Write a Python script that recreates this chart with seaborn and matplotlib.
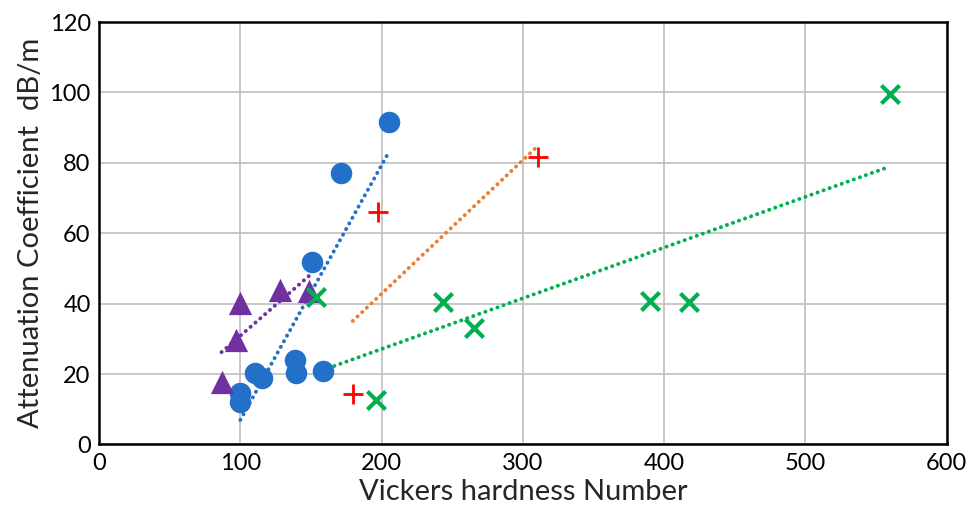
import matplotlib
matplotlib.use("Agg")
import matplotlib.pyplot as plt
import seaborn as sns
import numpy as np

# Vickers hardness (HV) and attenuation coefficient (dB/m) per material group
circle_hv = [205.5, 171.4, 150.6, 138.4, 139.1, 158.4, 110.2, 115.0, 100.0, 100.0]
circle_att = [91.5, 77.0, 51.7, 24.0, 20.2, 20.9, 20.2, 18.8, 14.5, 12.1]

triangle_hv = [86.7, 96.7, 100.0, 127.8, 148.5]
triangle_att = [17.7, 29.7, 40.3, 43.9, 43.6]

plus_hv = [179.6, 197.3, 311.0]
plus_att = [14.2, 65.9, 81.7]

cross_hv = [153.7, 196.1, 243.7, 265.6, 389.8, 417.5, 559.6]
cross_att = [42.0, 12.6, 40.4, 33.2, 40.7, 40.4, 99.5]

x_ticks = [0, 100, 200, 300, 400, 500, 600]
y_ticks = [0, 20, 40, 60, 80, 100, 120]

sns.set_theme(style="whitegrid")
plt.rcParams["font.family"] = ["Lato", "DejaVu Sans"]

fig = plt.figure(figsize=(9.71, 5.17), dpi=100)
ax = fig.add_axes([0.102, 0.1404, 0.873, 0.8170])

BLUE = "#2270C8"
PURPLE = "#7030A0"
RED = "#FF0000"
ORANGE = "#ED7D31"
GREEN = "#00B050"

dot_kws = dict(lw=2.8, linestyle=(0, (0.05, 1.6)), dash_capstyle="round", zorder=2)

# linear trendlines over each group's data range
sns.regplot(x=circle_hv, y=circle_att, ax=ax, scatter=False, ci=None,
            color=BLUE, line_kws=dict(color=BLUE, **dot_kws))
sns.regplot(x=triangle_hv, y=triangle_att, ax=ax, scatter=False, ci=None,
            color=PURPLE, line_kws=dict(color=PURPLE, **dot_kws))
sns.regplot(x=plus_hv, y=plus_att, ax=ax, scatter=False, ci=None,
            color=ORANGE, line_kws=dict(color=ORANGE, **dot_kws))
sns.regplot(x=cross_hv, y=cross_att, ax=ax, scatter=False, ci=None,
            color=GREEN, line_kws=dict(color=GREEN, **dot_kws))

# markers
sns.scatterplot(x=circle_hv, y=circle_att, ax=ax, marker="o", s=240,
                color=BLUE, edgecolor=BLUE, linewidth=0, zorder=3)
sns.scatterplot(x=triangle_hv, y=triangle_att, ax=ax, marker="^", s=280,
                color=PURPLE, edgecolor=PURPLE, linewidth=0, zorder=3)
sns.scatterplot(x=plus_hv, y=plus_att, ax=ax, marker="+", s=210,
                color=RED, linewidth=2.0, zorder=3)
sns.scatterplot(x=cross_hv, y=cross_att, ax=ax, marker="x", s=170,
                color=GREEN, linewidth=3.0, zorder=3)

ax.set_xlim(0, 600)
ax.set_ylim(0, 120)
ax.set_xticks(x_ticks)
ax.set_yticks(y_ticks)
ax.tick_params(axis="both", length=0, labelsize=17, colors="#000000", pad=6)

ax.grid(True, color="#BFBFBF", linewidth=1.2)
ax.set_axisbelow(True)
for side in ["left", "right", "top", "bottom"]:
    ax.spines[side].set_visible(True)
    ax.spines[side].set_color("#000000")
    ax.spines[side].set_linewidth(1.8)

ax.set_xlabel("Vickers hardness Number", fontsize=21, labelpad=4)
ax.set_ylabel("Attenuation Coefficient  dB/m", fontsize=21, labelpad=4)

fig.savefig("out.png", dpi=100, facecolor="white")
